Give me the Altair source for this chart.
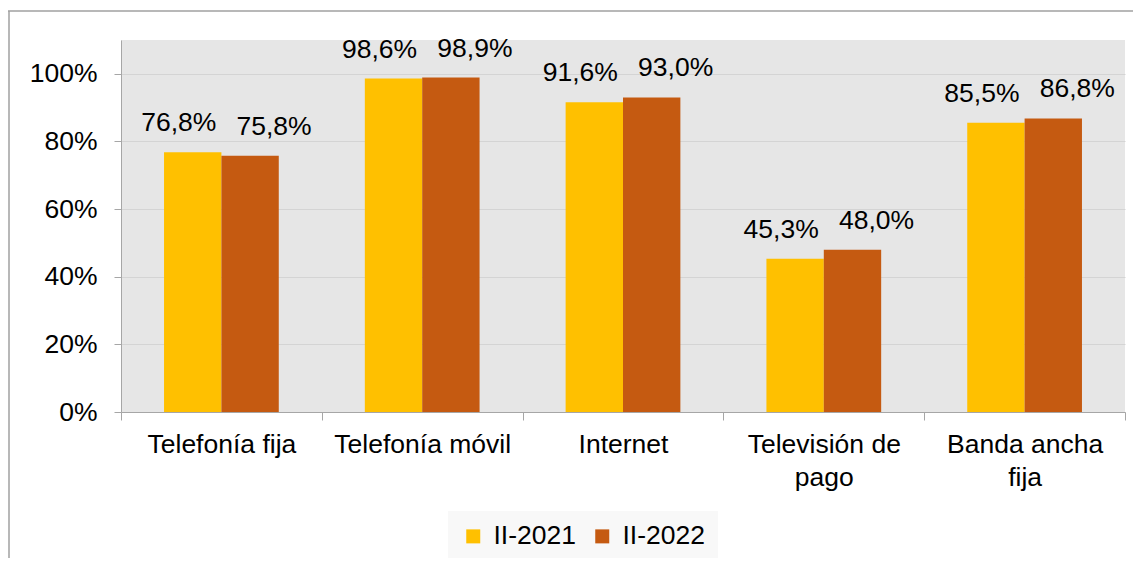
import altair as alt
import pandas as pd

categorias = ["Telefonía fija", "Telefonía móvil", "Internet", "Televisión de pago", "Banda ancha fija"]
periodos = ["II-2021", "II-2022"]
v2021 = [76.8, 98.6, 91.6, 45.3, 85.5]
v2022 = [75.8, 98.9, 93.0, 48.0, 86.8]
colores = ["#FFC000", "#C55A11"]
y_ticks = [0, 20, 40, 60, 80, 100]

rows = []
for c, a, b in zip(categorias, v2021, v2022):
    rows.append({"cat": c, "periodo": periodos[0], "valor": a})
    rows.append({"cat": c, "periodo": periodos[1], "valor": b})
df = pd.DataFrame(rows)

FONT = "Liberation Sans"
FS = 26.5

label_expr = ("datum.label == 'Televisión de pago' ? ['Televisión de', 'pago'] : "
              "datum.label == 'Banda ancha fija' ? ['Banda ancha', 'fija'] : datum.label")

x_enc = alt.X("cat:N", sort=categorias, title=None,
              scale=alt.Scale(paddingInner=0, paddingOuter=0),
              axis=alt.Axis(labelAngle=0, tickBand="extent", tickSize=8, tickColor="#A6A6A6",
                            domainColor="#A6A6A6", labelFont=FONT, labelFontSize=FS,
                            labelColor="#000000", labelPadding=11, labelExpr=label_expr,
                            labelLineHeight=33, grid=False, labelBaseline="top"))
xo_enc = alt.XOffset("periodo:N", sort=periodos, scale=alt.Scale(paddingOuter=0.75, paddingInner=0))
y_enc = alt.Y("valor:Q", title=None,
              scale=alt.Scale(domain=[0, 110], nice=False),
              axis=alt.Axis(values=y_ticks, labelExpr="datum.value + '%'", tickSize=7,
                            tickColor="#A6A6A6", domainColor="#A6A6A6", gridColor="#D4D4D4",
                            labelFont=FONT, labelFontSize=FS, labelColor="#000000",
                            labelPadding=17))
color_enc = alt.Color("periodo:N", sort=periodos,
                      scale=alt.Scale(domain=periodos, range=colores),
                      legend=alt.Legend(title=None, orient="none", legendX=327, legendY=471,
                                        direction="horizontal", symbolType="square",
                                        symbolSize=196, symbolStrokeWidth=0,
                                        labelFont=FONT, labelFontSize=FS, labelColor="#000000",
                                        labelOffset=7, columnPadding=12, padding=12,
                                        fillColor="#F8F8F8"))

base = alt.Chart(df)
bars = base.mark_bar().encode(x=x_enc, xOffset=xo_enc, y=y_enc, color=color_enc)

def text_layer(periodo, dx):
    return base.transform_filter(alt.datum.periodo == periodo).transform_calculate(
        lbl="replace(format(datum.valor, '.1f'), '.', ',') + '%'"
    ).mark_text(font=FONT, fontSize=FS, baseline="bottom", dy=-15, dx=dx, color="#000000").encode(
        x=alt.X("cat:N", sort=categorias), xOffset=xo_enc, y="valor:Q", text="lbl:N")

t1 = text_layer(periodos[0], -14)
t2 = text_layer(periodos[1], 24)

frame_data = alt.Data(values=[{}])
frame_top = alt.Chart(frame_data).mark_rule(color="#A0A0A0", strokeWidth=1.5).encode(
    x=alt.value(-113), x2=alt.value(1040), y=alt.value(-29))
frame_left = alt.Chart(frame_data).mark_rule(color="#A0A0A0", strokeWidth=1.5).encode(
    x=alt.value(-112), y=alt.value(-29), y2=alt.value(560))

chart = alt.layer(bars, t1, t2, frame_top, frame_left).properties(
    width=1004, height=372,
    autosize=alt.AutoSizeParams(type="none"),
    padding={"left": 113, "top": 32, "right": 8, "bottom": 146},
    background="#FFFFFF",
).configure_view(fill="#E6E6E6", stroke=None)

chart.save("out.html", embed_options={"renderer": "svg", "actions": False})
